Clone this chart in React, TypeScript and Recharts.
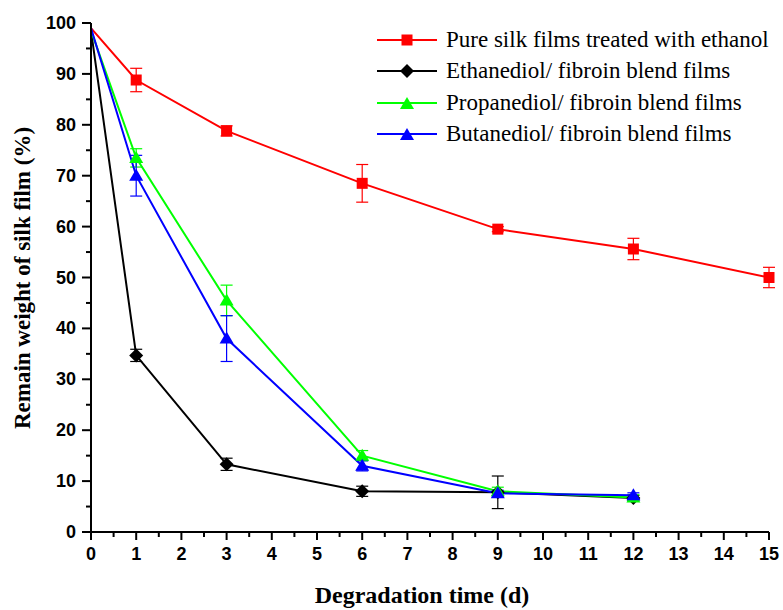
import { LineChart, Line, XAxis, YAxis, ErrorBar, Label } from 'recharts';

const days = [0, 1, 3, 6, 9, 12, 15];

const pureSilk = [99.0, 88.8, 78.8, 68.5, 59.5, 55.6, 50.0];
const pureSilkErr = [0, 2.3, 1.0, 3.7, 0.5, 2.1, 2.0];

const ethanediol = [98.5, 34.7, 13.3, 8.0, 7.8, 6.7];
const ethanediolErr = [0, 1.2, 1.2, 1.0, 3.2, 0.5];

const propanediol = [98.5, 73.5, 45.5, 15.0, 8.0, 6.8];
const propanediolErr = [0, 1.8, 3.0, 1.0, 0.8, 0.5];

const butanediol = [99.0, 70.0, 38.0, 13.0, 7.6, 7.2];
const butanediolErr = [0, 4.0, 4.5, 1.0, 0.6, 0.5];

const xTicks = Array.from({ length: 31 }, (_, i) => i / 2);
const yTicks = Array.from({ length: 21 }, (_, i) => i * 5);

const seriesNames = [
  'Pure silk films treated with ethanol',
  'Ethanediol/ fibroin blend films',
  'Propanediol/ fibroin blend films',
  'Butanediol/ fibroin blend films',
];

const toRows = (values: number[], errs: number[]) =>
  values.map((v, i) => ({ day: days[i], value: v, err: errs[i] }));

const series = [
  { name: seriesNames[0], color: '#ff0000', shape: 'square', data: toRows(pureSilk, pureSilkErr) },
  { name: seriesNames[1], color: '#000000', shape: 'diamond', data: toRows(ethanediol, ethanediolErr) },
  { name: seriesNames[2], color: '#00ff00', shape: 'triangle', data: toRows(propanediol, propanediolErr) },
  { name: seriesNames[3], color: '#0000ff', shape: 'triangle', data: toRows(butanediol, butanediolErr) },
];

const tickFont = '"Liberation Sans", Arial, sans-serif';
const serifFont = '"Liberation Serif", "Times New Roman", serif';

function Marker({ cx, cy, shape, color }: { cx: number; cy: number; shape: string; color: string }) {
  if (shape === 'square') {
    return <rect x={cx - 5.5} y={cy - 5.5} width={11} height={11} fill={color} />;
  }
  if (shape === 'diamond') {
    return <polygon points={`${cx},${cy - 7} ${cx + 7},${cy} ${cx},${cy + 7} ${cx - 7},${cy}`} fill={color} />;
  }
  return <polygon points={`${cx},${cy - 7} ${cx + 7},${cy + 5} ${cx - 7},${cy + 5}`} fill={color} />;
}

function makeDot(shape: string, color: string) {
  return (props: any) => {
    const { cx, cy, index } = props;
    if (index === 0 || cx == null || cy == null) return <g key={`d${index}`} />;
    return (
      <g key={`d${index}`}>
        <Marker cx={cx} cy={cy} shape={shape} color={color} />
      </g>
    );
  };
}

function XTick(props: any) {
  const { x, y, payload } = props;
  const major = Number.isInteger(payload.value);
  return (
    <g>
      <line x1={x} x2={x} y1={y} y2={y + (major ? 8 : 5)} stroke="#000" strokeWidth={2} />
      {major && (
        <text x={x} y={y + 28} textAnchor="middle" fontFamily={tickFont} fontWeight="bold" fontSize={18} fill="#000">
          {payload.value}
        </text>
      )}
    </g>
  );
}

function YTick(props: any) {
  const { x, y, payload } = props;
  const major = payload.value % 10 === 0;
  return (
    <g>
      <line x1={x} x2={x - (major ? 9 : 5)} y1={y} y2={y} stroke="#000" strokeWidth={2} />
      {major && (
        <text x={x - 15} y={y + 6} textAnchor="end" fontFamily={tickFont} fontWeight="bold" fontSize={18} fill="#000">
          {payload.value}
        </text>
      )}
    </g>
  );
}

function LegendBox() {
  return (
    <div style={{ position: 'absolute', left: 377, top: 24, fontFamily: serifFont, fontSize: 23, color: '#000' }}>
      {series.map((s) => (
        <div key={s.name} style={{ display: 'flex', alignItems: 'center', height: 31.5, whiteSpace: 'nowrap' }}>
          <svg width={60} height={16} style={{ marginRight: 9 }}>
            <line x1={0} x2={60} y1={8} y2={8} stroke={s.color} strokeWidth={2} />
            <Marker cx={30} cy={s.shape === 'triangle' ? 9 : 8} shape={s.shape} color={s.color} />
          </svg>
          <span>{s.name}</span>
        </div>
      ))}
    </div>
  );
}

export default function App() {
  return (
    <div style={{ position: 'fixed', left: 0, top: 0, width: 783, height: 610, overflow: 'hidden', background: '#fff' }}>
      <LineChart width={783} height={610} margin={{ top: 23, right: 14, left: 0, bottom: 0 }}>
        <XAxis
          dataKey="day"
          type="number"
          domain={[0, 15]}
          ticks={xTicks}
          interval={0}
          allowDuplicatedCategory={false}
          height={78}
          tickSize={0}
          tickMargin={0}
          tickLine={false}
          tick={<XTick />}
          axisLine={{ stroke: '#000', strokeWidth: 2 }}
        >
          <Label
            content={() => (
              <text x={422} y={603} textAnchor="middle" fontFamily={serifFont} fontWeight="bold" fontSize={24} fill="#000">
                Degradation time (d)
              </text>
            )}
          />
        </XAxis>
        <YAxis
          type="number"
          domain={[0, 100]}
          ticks={yTicks}
          interval={0}
          width={91}
          tickSize={0}
          tickMargin={0}
          tickLine={false}
          tick={<YTick />}
          axisLine={{ stroke: '#000', strokeWidth: 2 }}
        >
          <Label
            content={() => (
              <text
                x={22}
                y={278}
                transform="rotate(-90 22 278)"
                textAnchor="middle"
                dominantBaseline="central"
                fontFamily={serifFont}
                fontWeight="bold"
                fontSize={23}
                fill="#000"
              >
                Remain weight of silk film (%)
              </text>
            )}
          />
        </YAxis>
        {series.map((s) => (
          <Line
            key={s.name}
            data={s.data}
            dataKey="value"
            name={s.name}
            stroke={s.color}
            strokeWidth={2}
            dot={makeDot(s.shape, s.color)}
            activeDot={false}
            isAnimationActive={false}
          >
            <ErrorBar dataKey="err" width={6} stroke={s.color} strokeWidth={1.2} direction="y" />
          </Line>
        ))}
      </LineChart>
      <LegendBox />
    </div>
  );
}
